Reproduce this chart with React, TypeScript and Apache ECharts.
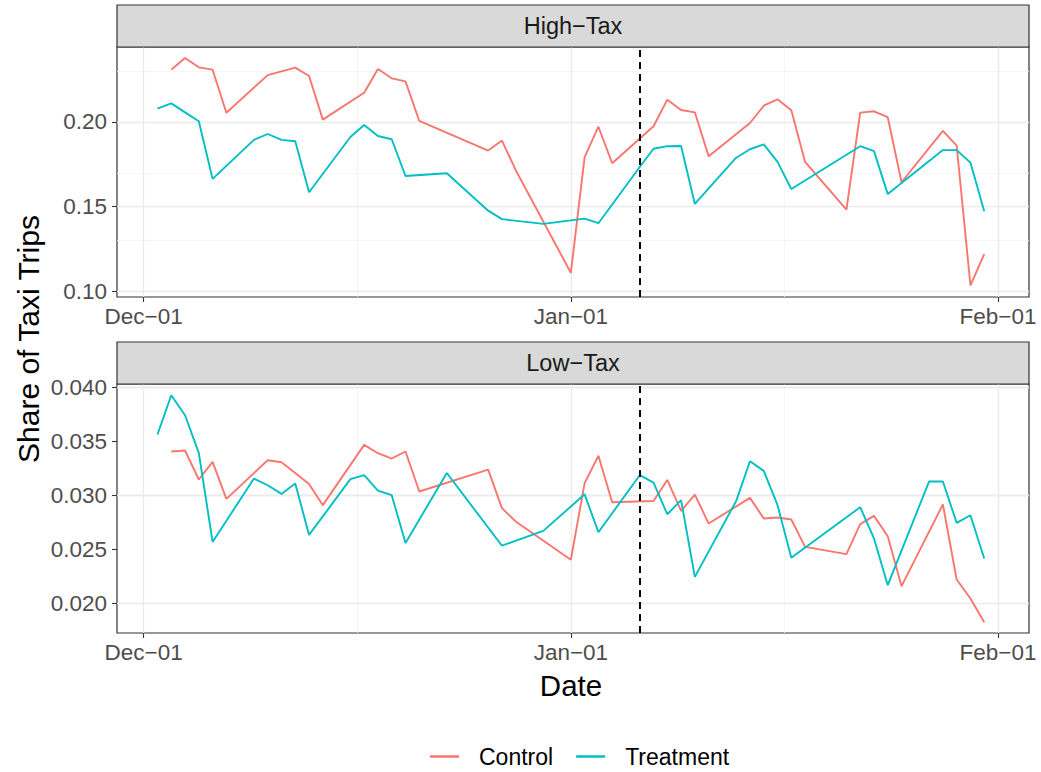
import React, { useEffect, useRef } from "react";
import * as echarts from "echarts";

const FONT = '"Liberation Sans", Arial, Helvetica, sans-serif';
const RED = "#F8766D";
const TEAL = "#00BFC4";

// ---------- data ----------
const controlDates = [
  "2018-12-03", "2018-12-04", "2018-12-05", "2018-12-06", "2018-12-07",
  "2018-12-10", "2018-12-11", "2018-12-12", "2018-12-13", "2018-12-14",
  "2018-12-17", "2018-12-18", "2018-12-19", "2018-12-20", "2018-12-21",
  "2018-12-26", "2018-12-27", "2018-12-28",
  "2019-01-01", "2019-01-02", "2019-01-03", "2019-01-04",
  "2019-01-07", "2019-01-08", "2019-01-09", "2019-01-10", "2019-01-11",
  "2019-01-14", "2019-01-15", "2019-01-16", "2019-01-17", "2019-01-18",
  "2019-01-21", "2019-01-22", "2019-01-23", "2019-01-24", "2019-01-25",
  "2019-01-28", "2019-01-29", "2019-01-30", "2019-01-31",
];
const highControl = [
  0.2309, 0.2378, 0.2323, 0.2309, 0.2055,
  0.2277, 0.2299, 0.2321, 0.2272, 0.2014,
  0.2173, 0.2313, 0.2258, 0.224, 0.2006,
  0.1831, 0.189, 0.1715,
  0.1109, 0.1793, 0.1972, 0.1756,
  0.1975, 0.2132, 0.2071, 0.2057, 0.1797,
  0.1994, 0.2096, 0.2134, 0.2069, 0.1764,
  0.1482, 0.2055, 0.2063, 0.2028, 0.1644,
  0.1948, 0.186, 0.1034, 0.1219,
];
const lowControl = [
  0.03404, 0.03413, 0.03145, 0.03308, 0.02966,
  0.03323, 0.03305, 0.03206, 0.03104, 0.02908,
  0.03465, 0.03388, 0.03339, 0.03404, 0.03034,
  0.03237, 0.0288, 0.02757,
  0.02403, 0.03111, 0.03365, 0.02935,
  0.02947, 0.03141, 0.02855, 0.03006, 0.02738,
  0.02975, 0.02785, 0.02794, 0.02775, 0.02522,
  0.02455, 0.02732, 0.02809, 0.02621, 0.02159,
  0.02914, 0.02221, 0.02045, 0.01826,
];

const highTreatmentDates = [
  "2018-12-02", "2018-12-03", "2018-12-04", "2018-12-05", "2018-12-06",
  "2018-12-09", "2018-12-10", "2018-12-11", "2018-12-12", "2018-12-13",
  "2018-12-16", "2018-12-17", "2018-12-18", "2018-12-19", "2018-12-20",
  "2018-12-23", "2018-12-26", "2018-12-27", "2018-12-30",
  "2019-01-02", "2019-01-03", "2019-01-06", "2019-01-07", "2019-01-08",
  "2019-01-09", "2019-01-10", "2019-01-13", "2019-01-14", "2019-01-15",
  "2019-01-16", "2019-01-17", "2019-01-22", "2019-01-23", "2019-01-24",
  "2019-01-28", "2019-01-29", "2019-01-30", "2019-01-31",
];
const highTreatment = [
  0.2079, 0.211, 0.2057, 0.2004, 0.1664,
  0.1894, 0.1929, 0.1894, 0.1886, 0.1585,
  0.1911, 0.1982, 0.1917, 0.1898, 0.1681,
  0.1697, 0.1476, 0.1426, 0.1398,
  0.1429, 0.1402, 0.1734, 0.1842, 0.1857,
  0.1858, 0.1516, 0.1789, 0.1839, 0.1868,
  0.1764, 0.1604, 0.1857, 0.1828, 0.1574,
  0.1834, 0.1834, 0.176, 0.1473,
];

const lowTreatmentDates = [
  "2018-12-02", "2018-12-03", "2018-12-04", "2018-12-05", "2018-12-06",
  "2018-12-09", "2018-12-10", "2018-12-11", "2018-12-12", "2018-12-13",
  "2018-12-16", "2018-12-17", "2018-12-18", "2018-12-19", "2018-12-20",
  "2018-12-23", "2018-12-27", "2018-12-30",
  "2019-01-02", "2019-01-03", "2019-01-06", "2019-01-07", "2019-01-08",
  "2019-01-09", "2019-01-10", "2019-01-13", "2019-01-14", "2019-01-15",
  "2019-01-16", "2019-01-17", "2019-01-22", "2019-01-23", "2019-01-24",
  "2019-01-27", "2019-01-28", "2019-01-29", "2019-01-30", "2019-01-31",
];
const lowTreatment = [
  0.03561, 0.03924, 0.03739, 0.03391, 0.02568,
  0.03154, 0.03092, 0.03012, 0.03108, 0.02633,
  0.03148, 0.03185, 0.03043, 0.03, 0.02559,
  0.03205, 0.02533, 0.0267,
  0.03008, 0.02658, 0.03185, 0.03117, 0.02824,
  0.02954, 0.02245, 0.02947, 0.03314, 0.03225,
  0.02908, 0.02421, 0.02889, 0.026, 0.02168,
  0.03127, 0.03127, 0.02744, 0.02815, 0.02415,
];

const policyDate = "2019-01-06";
const xTickDates = ["2018-12-01", "2019-01-01", "2019-02-01"];
const xTickLabels = ["Dec\u221201", "Jan\u221201", "Feb\u221201"];
const xMinorDates = ["2018-12-16T12", "2019-01-16T12"];
const highTicks = [0.1, 0.15, 0.2];
const highTickLabels = ["0.10", "0.15", "0.20"];
const highMinor = [0.125, 0.175, 0.225];
const lowTicks = [0.02, 0.025, 0.03, 0.035, 0.04];
const lowTickLabels = ["0.020", "0.025", "0.030", "0.035", "0.040"];
const lowMinor = [0.0225, 0.0275, 0.0325, 0.0375];
const panelNames = ["High\u2212Tax", "Low\u2212Tax"];

// ---------- helpers ----------
function ts(s: string): number {
  const [datePart, hourPart] = s.split("T");
  const [y, m, d] = datePart.split("-").map(Number);
  return Date.UTC(y, m - 1, d, hourPart ? Number(hourPart) : 0);
}
const zip = (dates: string[], vals: number[]) => dates.map((d, i) => [ts(d), vals[i]]);

const X_MIN = Date.UTC(2018, 10, 29, 1, 30);
const X_MAX = Date.UTC(2019, 1, 3, 6);

const PANEL_LEFT = 117;
const PANEL_W = 912;
const PANELS = [
  { top: 47, height: 250, stripTop: 5 },
  { top: 384, height: 249, stripTop: 342 },
];
const TICK_FONT = 22.5;

function gridLineSeries(idx: number, yMajor: number[], yMinor: number[]) {
  const major = { color: "#EBEBEB", width: 1.4, type: "solid" };
  const minor = { color: "#F2F2F2", width: 0.8, type: "solid" };
  return {
    type: "line",
    name: "grid" + idx,
    xAxisIndex: idx,
    yAxisIndex: idx,
    data: [],
    symbol: "none",
    silent: true,
    lineStyle: { opacity: 0 },
    markLine: {
      z: 1,
      silent: true,
      symbol: ["none", "none"],
      label: { show: false },
      emphasis: { disabled: true },
      data: [
        ...yMinor.map((v) => ({ yAxis: v, lineStyle: minor })),
        ...xMinorDates.map((d) => ({ xAxis: ts(d), lineStyle: minor })),
        ...yMajor.map((v) => ({ yAxis: v, lineStyle: major })),
        ...xTickDates.map((d) => ({ xAxis: ts(d), lineStyle: major })),
      ],
    },
  };
}

function policySeries(idx: number) {
  return {
    type: "line",
    name: "policy" + idx,
    xAxisIndex: idx,
    yAxisIndex: idx,
    data: [],
    symbol: "none",
    silent: true,
    lineStyle: { opacity: 0 },
    markLine: {
      z: 6,
      silent: true,
      symbol: ["none", "none"],
      label: { show: false },
      emphasis: { disabled: true },
      data: [{ xAxis: ts(policyDate), lineStyle: { color: "#000", width: 2, type: [7, 5] } }],
    },
  };
}

function dataSeries(name: string, color: string, idx: number, data: number[][]) {
  return {
    type: "line",
    name,
    xAxisIndex: idx,
    yAxisIndex: idx,
    data,
    symbol: "none",
    showSymbol: false,
    z: 3,
    lineStyle: { color, width: 1.9 },
    itemStyle: { color },
    emphasis: { disabled: true },
  };
}

const tickStyle = { color: "#333333", width: 1.1 };
const xTickVals = xTickDates.map(ts);

function xAxisFor(idx: number) {
  return {
    type: "value",
    gridIndex: idx,
    min: X_MIN,
    max: X_MAX,
    splitLine: { show: false },
    axisLine: { show: false },
    axisTick: { show: true, length: 5, lineStyle: tickStyle, customValues: xTickVals },
    axisLabel: {
      customValues: xTickVals,
      formatter: (v: number) => {
        const i = xTickVals.findIndex((t) => Math.abs(t - v) < 3600000);
        return i >= 0 ? xTickLabels[i] : "";
      },
      color: "#4D4D4D",
      fontSize: TICK_FONT,
      fontFamily: FONT,
      margin: 8,
    },
  };
}

function yAxisFor(idx: number, min: number, max: number, ticks: number[], labels: string[]) {
  return {
    type: "value",
    gridIndex: idx,
    min,
    max,
    splitLine: { show: false },
    axisLine: { show: false },
    axisTick: { show: true, length: 5, lineStyle: tickStyle, customValues: ticks },
    axisLabel: {
      customValues: ticks,
      formatter: (v: number) => {
        const i = ticks.findIndex((t) => Math.abs(t - v) < 1e-9);
        return i >= 0 ? labels[i] : "";
      },
      color: "#4D4D4D",
      fontSize: TICK_FONT,
      fontFamily: FONT,
      margin: 10,
    },
  };
}

export default function App() {
  const ref = useRef<HTMLDivElement>(null);
  useEffect(() => {
    document.body.style.margin = "0";
    if (!ref.current) return;
    const chart = echarts.init(ref.current, null, { renderer: "svg" });
    const strips: any[] = [];
    PANELS.forEach((p, i) => {
      strips.push({
        type: "rect",
        shape: { x: PANEL_LEFT, y: p.stripTop, width: PANEL_W, height: p.top - p.stripTop },
        style: { fill: "#D9D9D9", stroke: "#333333", lineWidth: 1.2 },
        z: 10,
      });
      strips.push({
        type: "text",
        x: PANEL_LEFT + PANEL_W / 2,
        y: (p.stripTop + p.top) / 2,
        style: {
          text: panelNames[i],
          fill: "#1A1A1A",
          font: `23.5px ${FONT}`,
          textAlign: "center",
          textVerticalAlign: "middle",
        },
        z: 11,
      });
    });
    chart.setOption({
      animation: false,
      backgroundColor: "#ffffff",
      grid: PANELS.map((p) => ({
        left: PANEL_LEFT,
        top: p.top,
        width: PANEL_W,
        height: p.height,
        show: true,
        backgroundColor: "#ffffff",
        borderColor: "#333333",
        borderWidth: 1.2,
        z: 0,
      })),
      xAxis: [xAxisFor(0), xAxisFor(1)],
      yAxis: [
        yAxisFor(0, 0.0966, 0.2443, highTicks, highTickLabels),
        yAxisFor(1, 0.01726, 0.04028, lowTicks, lowTickLabels),
      ],
      legend: {
        data: ["Control", "Treatment"],
        left: 425,
        top: 740,
        icon: "rect",
        itemWidth: 29,
        itemHeight: 2.5,
        itemGap: 23,
        textStyle: { color: "#000", fontSize: 23, fontFamily: FONT, padding: [0, 0, 0, 15] },
        selectedMode: false,
      },
      graphic: [
        ...strips,
        {
          type: "text",
          x: 28,
          y: 339,
          rotation: Math.PI / 2,
          style: {
            text: "Share of Taxi Trips",
            fill: "#000",
            font: `30px ${FONT}`,
            textAlign: "center",
            textVerticalAlign: "middle",
          },
        },
        {
          type: "text",
          x: 571,
          y: 685,
          style: {
            text: "Date",
            fill: "#000",
            font: `29.5px ${FONT}`,
            textAlign: "center",
            textVerticalAlign: "middle",
          },
        },
      ],
      series: [
        gridLineSeries(0, highTicks, highMinor),
        gridLineSeries(1, lowTicks, lowMinor),
        dataSeries("Control", RED, 0, zip(controlDates, highControl)),
        dataSeries("Treatment", TEAL, 0, zip(highTreatmentDates, highTreatment)),
        dataSeries("Control", RED, 1, zip(controlDates, lowControl)),
        dataSeries("Treatment", TEAL, 1, zip(lowTreatmentDates, lowTreatment)),
        policySeries(0),
        policySeries(1),
      ],
    });
    return () => chart.dispose();
  }, []);
  return <div ref={ref} style={{ width: 1041, height: 772 }} />;
}
